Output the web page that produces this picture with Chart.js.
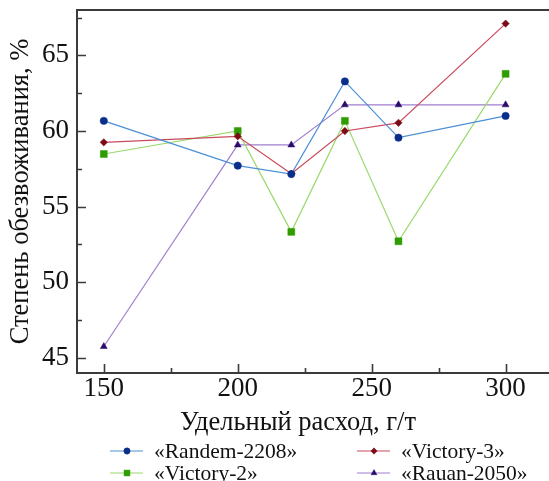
<!DOCTYPE html>
<html>
<head>
<meta charset="utf-8">
<script src="https://cdn.jsdelivr.net/npm/chart.js@4/dist/chart.umd.min.js"></script>
<style>
  html, body { margin: 0; padding: 0; background: #fff; }
  #wrap { width: 549px; height: 481px; }
</style>
</head>
<body>
<div id="wrap"><canvas id="dewater" width="549" height="481"></canvas></div>
<script>
// dosage, g/t
const dosage = [150, 200, 220, 240, 260, 300];

// dewatering degree, %
const randem = [60.67, 57.71, 57.15, 63.28, 59.56, 61.0];
const victory3 = [59.25, 59.65, 57.18, 60.0, 60.54, 67.1];
const victory2 = [58.48, 60.0, 53.33, 60.67, 52.71, 63.78];
const rauan = [45.75, 59.08, 59.08, 61.73, 61.73, 61.73];

const seriesNames = ['«Randem-2208»', '«Victory-3»', '«Victory-2»', '«Rauan-2050»'];

const xTicks = [150, 175, 200, 225, 250, 275, 300];
const yTicks = [45, 47.5, 50, 52.5, 55, 57.5, 60, 62.5, 65, 67.5];

const serif = "'Liberation Serif', 'Times New Roman', serif";

function pts(vals) {
  return dosage.map((d, i) => ({ x: d, y: vals[i] }));
}

const styles = [
  { line: '#4a8fd6', mark: '#0a2f8a', shape: 'circle', r: 3.7 },
  { line: '#c94a5c', mark: '#7a0a16', shape: 'rectRot', r: 3.7 },
  { line: '#9ad86c', mark: '#2f9c00', shape: 'rect', r: 4.9 },
  { line: '#a07fcf', mark: '#2a0b6b', shape: 'triangle', r: 4 }
];

const values = [randem, victory3, victory2, rauan];

const datasets = values.map((v, i) => ({
  label: seriesNames[i],
  data: pts(v),
  borderColor: styles[i].line,
  borderWidth: 1.2,
  backgroundColor: styles[i].mark,
  pointBackgroundColor: styles[i].mark,
  pointBorderColor: styles[i].mark,
  pointBorderWidth: 0.5,
  pointStyle: styles[i].shape,
  pointRadius: styles[i].r,
  tension: 0
}));

// box on top/left/bottom plus inward tick marks
const frame = {
  id: 'frame',
  afterDraw(chart) {
    const { ctx, chartArea: a, scales: { x, y } } = chart;
    ctx.save();
    ctx.strokeStyle = '#3b3b3b';
    ctx.lineWidth = 2;
    ctx.beginPath();
    ctx.moveTo(chart.width, a.top);
    ctx.lineTo(a.left, a.top);
    ctx.lineTo(a.left, a.bottom);
    ctx.lineTo(chart.width, a.bottom);
    ctx.stroke();

    ctx.lineWidth = 1.6;
    ctx.beginPath();
    xTicks.forEach(v => {
      const px = Math.round(x.getPixelForValue(v)) + 0.5;
      const len = v % 50 === 0 ? 9 : 5;
      ctx.moveTo(px, a.bottom);
      ctx.lineTo(px, a.bottom - len);
    });
    yTicks.forEach(v => {
      const py = Math.round(y.getPixelForValue(v)) + 0.5;
      const len = v % 5 === 0 ? 9 : 5;
      ctx.moveTo(a.left, py);
      ctx.lineTo(a.left + len, py);
    });
    ctx.stroke();
    ctx.restore();
  }
};

// two-column legend under the axis title
const legendGrid = {
  id: 'legendGrid',
  afterDraw(chart) {
    const { ctx } = chart;
    const cols = [110, 357];
    const rows = [451, 473];
    ctx.save();
    ctx.font = '21.5px ' + serif;
    ctx.textBaseline = 'middle';
    seriesNames.forEach((name, i) => {
      const cx = cols[i % 2];
      const cy = rows[Math.floor(i / 2)];
      const s = styles[i];
      ctx.strokeStyle = s.line;
      ctx.lineWidth = 1.2;
      ctx.beginPath();
      ctx.moveTo(cx, cy);
      ctx.lineTo(cx + 33, cy);
      ctx.stroke();
      ctx.fillStyle = s.mark;
      ctx.strokeStyle = s.mark;
      ctx.lineWidth = 0.5;
      Chart.helpers.drawPoint(ctx, { pointStyle: s.shape, radius: s.r * 0.85, rotation: 0, borderWidth: 0.5 }, cx + 17, cy);
      ctx.fillStyle = '#111';
      ctx.fillText(name, cx + 44, cy + 1);
    });
    ctx.restore();
  }
};

new Chart(document.getElementById('dewater'), {
  type: 'line',
  data: { datasets: datasets },
  plugins: [frame, legendGrid],
  options: {
    responsive: false,
    animation: false,
    layout: { padding: { left: 0, top: 10, right: 30, bottom: 42 } },
    plugins: { legend: { display: false }, tooltip: { enabled: false } },
    scales: {
      x: {
        type: 'linear',
        min: 140,
        max: 305,
        afterFit: s => { s.height = 66; s.paddingLeft = 0; s.paddingRight = 0; },
        afterBuildTicks: s => { s.ticks = xTicks.map(v => ({ value: v })); },
        grid: { display: false, drawTicks: false },
        border: { display: false },
        ticks: {
          padding: 0,
          color: '#111',
          font: { family: serif, size: 27 },
          maxRotation: 0,
          autoSkip: false,
          callback: v => (v % 50 === 0 ? String(v) : '')
        },
        title: {
          display: true,
          text: 'Удельный расход, г/т',
          color: '#111',
          font: { family: serif, size: 26.5 },
          padding: { top: 0, bottom: 0 }
        }
      },
      y: {
        min: 44,
        max: 68,
        afterFit: s => { s.width = 77; s.paddingTop = 0; s.paddingBottom = 0; },
        afterBuildTicks: s => { s.ticks = yTicks.map(v => ({ value: v })); },
        grid: { display: false, drawTicks: false },
        border: { display: false },
        ticks: {
          padding: 8,
          color: '#111',
          font: { family: serif, size: 27 },
          autoSkip: false,
          callback: v => (v % 5 === 0 ? String(v) : '')
        },
        title: {
          display: true,
          text: 'Степень обезвоживания, %',
          color: '#111',
          font: { family: serif, size: 26.5 },
          padding: { top: 5, bottom: 0 }
        }
      }
    }
  }
});
</script>
</body>
</html>
